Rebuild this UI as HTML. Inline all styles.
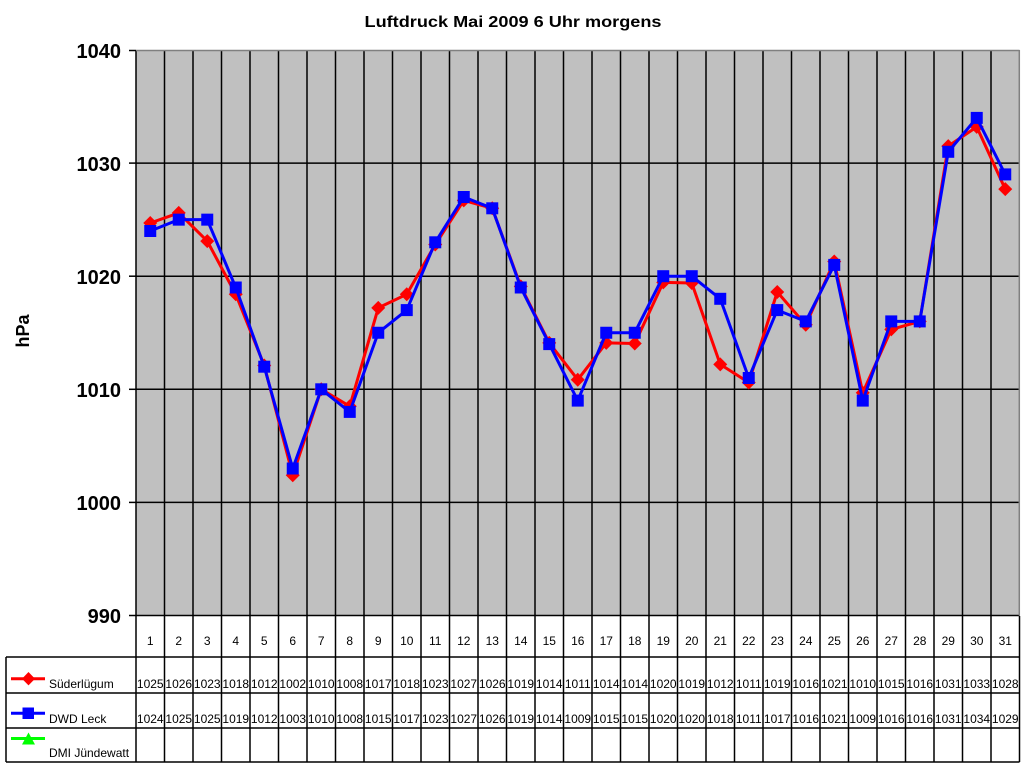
<!DOCTYPE html>
<html><head><meta charset="utf-8"><style>
html,body{margin:0;padding:0;background:#fff;}
svg{display:block;}
text{font-family:"Liberation Sans",Arial,sans-serif;}
</style></head><body>
<svg width="1024" height="768" viewBox="0 0 1024 768" xmlns="http://www.w3.org/2000/svg">
<rect x="0" y="0" width="1024" height="768" fill="#fff"/>
<text x="513" y="27" font-size="16" font-weight="bold" text-anchor="middle" textLength="297" lengthAdjust="spacingAndGlyphs">Luftdruck Mai 2009 6 Uhr morgens</text>
<text transform="translate(29,331) rotate(-90)" font-size="18" font-weight="bold" text-anchor="middle">hPa</text>
<!-- plot area -->
<rect x="136" y="50" width="883.5" height="565.5" fill="#C0C0C0"/>
<g stroke="#000" stroke-width="1.5">
<line x1="136" y1="163.1" x2="1019.5" y2="163.1"/>
<line x1="136" y1="276.2" x2="1019.5" y2="276.2"/>
<line x1="136" y1="389.3" x2="1019.5" y2="389.3"/>
<line x1="136" y1="502.4" x2="1019.5" y2="502.4"/>
<line x1="164.5" y1="50" x2="164.5" y2="762"/>
<line x1="193" y1="50" x2="193" y2="762"/>
<line x1="221.5" y1="50" x2="221.5" y2="762"/>
<line x1="250" y1="50" x2="250" y2="762"/>
<line x1="278.5" y1="50" x2="278.5" y2="762"/>
<line x1="307" y1="50" x2="307" y2="762"/>
<line x1="335.5" y1="50" x2="335.5" y2="762"/>
<line x1="364" y1="50" x2="364" y2="762"/>
<line x1="392.5" y1="50" x2="392.5" y2="762"/>
<line x1="421" y1="50" x2="421" y2="762"/>
<line x1="449.5" y1="50" x2="449.5" y2="762"/>
<line x1="478" y1="50" x2="478" y2="762"/>
<line x1="506.5" y1="50" x2="506.5" y2="762"/>
<line x1="535" y1="50" x2="535" y2="762"/>
<line x1="563.5" y1="50" x2="563.5" y2="762"/>
<line x1="592" y1="50" x2="592" y2="762"/>
<line x1="620.5" y1="50" x2="620.5" y2="762"/>
<line x1="649" y1="50" x2="649" y2="762"/>
<line x1="677.5" y1="50" x2="677.5" y2="762"/>
<line x1="706" y1="50" x2="706" y2="762"/>
<line x1="734.5" y1="50" x2="734.5" y2="762"/>
<line x1="763" y1="50" x2="763" y2="762"/>
<line x1="791.5" y1="50" x2="791.5" y2="762"/>
<line x1="820" y1="50" x2="820" y2="762"/>
<line x1="848.5" y1="50" x2="848.5" y2="762"/>
<line x1="877" y1="50" x2="877" y2="762"/>
<line x1="905.5" y1="50" x2="905.5" y2="762"/>
<line x1="934" y1="50" x2="934" y2="762"/>
<line x1="962.5" y1="50" x2="962.5" y2="762"/>
<line x1="991" y1="50" x2="991" y2="762"/>
<line x1="1019.5" y1="616" x2="1019.5" y2="762"/>
<!-- axis -->
<line x1="136" y1="50" x2="136" y2="762"/>
<line x1="136" y1="615.5" x2="1019.5" y2="615.5"/>
<!-- ticks -->
<line x1="129" y1="50.5" x2="136" y2="50.5"/>
<line x1="129" y1="163.1" x2="136" y2="163.1"/>
<line x1="129" y1="276.2" x2="136" y2="276.2"/>
<line x1="129" y1="389.3" x2="136" y2="389.3"/>
<line x1="129" y1="502.4" x2="136" y2="502.4"/>
<line x1="129" y1="615.5" x2="136" y2="615.5"/>
<!-- table -->
<line x1="6" y1="657" x2="1019.5" y2="657"/>
<line x1="6" y1="693" x2="1019.5" y2="693"/>
<line x1="6" y1="728" x2="1019.5" y2="728"/>
<line x1="6" y1="762" x2="1019.5" y2="762"/>
<line x1="6" y1="657" x2="6" y2="762"/>
</g>
<g stroke="#808080" stroke-width="1.5">
<line x1="136" y1="50.5" x2="1019.5" y2="50.5"/>
<line x1="1019.3" y1="50" x2="1019.3" y2="615.5"/>
</g>
<!-- y labels -->
<g font-size="20" font-weight="bold" text-anchor="end">
<text x="121" y="58">1040</text>
<text x="121" y="171">1030</text>
<text x="121" y="284">1020</text>
<text x="121" y="397">1010</text>
<text x="121" y="510">1000</text>
<text x="121" y="623">990</text>
</g>
<!-- red series -->
<polyline fill="none" stroke="#FF0000" stroke-width="3" stroke-linejoin="round" points="150.25,223 178.75,212.9 207.25,241.1 235.75,294.3 264.25,365.5 292.75,475.3 321.25,389.3 349.75,406.3 378.25,307.9 406.75,294.3 435.25,244.5 463.75,200.4 492.25,208.3 520.75,286.4 549.25,342.9 577.75,379.7 606.25,342.9 634.75,343.5 663.25,282.4 691.75,283 720.25,364.4 748.75,382.5 777.25,292 805.75,324.8 834.25,261.5 862.75,392.7 891.25,329.4 919.75,321.4 948.25,146.1 976.75,126.9 1005.25,189.1"/>
<g fill="#FF0000">
<path d="M150.25,216 l7,7 l-7,7 l-7,-7z"/>
<path d="M178.75,205.9 l7,7 l-7,7 l-7,-7z"/>
<path d="M207.25,234.1 l7,7 l-7,7 l-7,-7z"/>
<path d="M235.75,287.3 l7,7 l-7,7 l-7,-7z"/>
<path d="M264.25,358.5 l7,7 l-7,7 l-7,-7z"/>
<path d="M292.75,468.3 l7,7 l-7,7 l-7,-7z"/>
<path d="M321.25,382.3 l7,7 l-7,7 l-7,-7z"/>
<path d="M349.75,399.3 l7,7 l-7,7 l-7,-7z"/>
<path d="M378.25,300.9 l7,7 l-7,7 l-7,-7z"/>
<path d="M406.75,287.3 l7,7 l-7,7 l-7,-7z"/>
<path d="M435.25,237.5 l7,7 l-7,7 l-7,-7z"/>
<path d="M463.75,193.4 l7,7 l-7,7 l-7,-7z"/>
<path d="M492.25,201.3 l7,7 l-7,7 l-7,-7z"/>
<path d="M520.75,279.4 l7,7 l-7,7 l-7,-7z"/>
<path d="M549.25,335.9 l7,7 l-7,7 l-7,-7z"/>
<path d="M577.75,372.7 l7,7 l-7,7 l-7,-7z"/>
<path d="M606.25,335.9 l7,7 l-7,7 l-7,-7z"/>
<path d="M634.75,336.5 l7,7 l-7,7 l-7,-7z"/>
<path d="M663.25,275.4 l7,7 l-7,7 l-7,-7z"/>
<path d="M691.75,276 l7,7 l-7,7 l-7,-7z"/>
<path d="M720.25,357.4 l7,7 l-7,7 l-7,-7z"/>
<path d="M748.75,375.5 l7,7 l-7,7 l-7,-7z"/>
<path d="M777.25,285 l7,7 l-7,7 l-7,-7z"/>
<path d="M805.75,317.8 l7,7 l-7,7 l-7,-7z"/>
<path d="M834.25,254.5 l7,7 l-7,7 l-7,-7z"/>
<path d="M862.75,385.7 l7,7 l-7,7 l-7,-7z"/>
<path d="M891.25,322.4 l7,7 l-7,7 l-7,-7z"/>
<path d="M919.75,314.4 l7,7 l-7,7 l-7,-7z"/>
<path d="M948.25,139.1 l7,7 l-7,7 l-7,-7z"/>
<path d="M976.75,119.9 l7,7 l-7,7 l-7,-7z"/>
<path d="M1005.25,182.1 l7,7 l-7,7 l-7,-7z"/>
</g>
<!-- blue series -->
<polyline fill="none" stroke="#0000FF" stroke-width="3" stroke-linejoin="round" points="150.25,231 178.75,219.65 207.25,219.65 235.75,287.5 264.25,366.7 292.75,468.5 321.25,389.3 349.75,411.9 378.25,332.75 406.75,310.1 435.25,242.3 463.75,197 492.25,208.3 520.75,287.5 549.25,344.1 577.75,400.6 606.25,332.75 634.75,332.75 663.25,276.2 691.75,276.2 720.25,298.8 748.75,378 777.25,310.1 805.75,321.4 834.25,264.9 862.75,400.6 891.25,321.4 919.75,321.4 948.25,151.8 976.75,117.9 1005.25,174.4"/>
<g fill="#0000FF">
<rect x="144.25" y="225" width="12" height="12"/>
<rect x="172.75" y="213.65" width="12" height="12"/>
<rect x="201.25" y="213.65" width="12" height="12"/>
<rect x="229.75" y="281.5" width="12" height="12"/>
<rect x="258.25" y="360.7" width="12" height="12"/>
<rect x="286.75" y="462.5" width="12" height="12"/>
<rect x="315.25" y="383.3" width="12" height="12"/>
<rect x="343.75" y="405.9" width="12" height="12"/>
<rect x="372.25" y="326.75" width="12" height="12"/>
<rect x="400.75" y="304.1" width="12" height="12"/>
<rect x="429.25" y="236.3" width="12" height="12"/>
<rect x="457.75" y="191" width="12" height="12"/>
<rect x="486.25" y="202.3" width="12" height="12"/>
<rect x="514.75" y="281.5" width="12" height="12"/>
<rect x="543.25" y="338.1" width="12" height="12"/>
<rect x="571.75" y="394.6" width="12" height="12"/>
<rect x="600.25" y="326.75" width="12" height="12"/>
<rect x="628.75" y="326.75" width="12" height="12"/>
<rect x="657.25" y="270.2" width="12" height="12"/>
<rect x="685.75" y="270.2" width="12" height="12"/>
<rect x="714.25" y="292.8" width="12" height="12"/>
<rect x="742.75" y="372" width="12" height="12"/>
<rect x="771.25" y="304.1" width="12" height="12"/>
<rect x="799.75" y="315.4" width="12" height="12"/>
<rect x="828.25" y="258.9" width="12" height="12"/>
<rect x="856.75" y="394.6" width="12" height="12"/>
<rect x="885.25" y="315.4" width="12" height="12"/>
<rect x="913.75" y="315.4" width="12" height="12"/>
<rect x="942.25" y="145.8" width="12" height="12"/>
<rect x="970.75" y="111.9" width="12" height="12"/>
<rect x="999.25" y="168.4" width="12" height="12"/>
</g>
<!-- table text -->
<g font-size="12" text-anchor="middle" fill="#000">
<text x="150.25" y="645">1</text><text x="178.75" y="645">2</text><text x="207.25" y="645">3</text><text x="235.75" y="645">4</text><text x="264.25" y="645">5</text><text x="292.75" y="645">6</text><text x="321.25" y="645">7</text><text x="349.75" y="645">8</text><text x="378.25" y="645">9</text><text x="406.75" y="645">10</text><text x="435.25" y="645">11</text><text x="463.75" y="645">12</text><text x="492.25" y="645">13</text><text x="520.75" y="645">14</text><text x="549.25" y="645">15</text><text x="577.75" y="645">16</text><text x="606.25" y="645">17</text><text x="634.75" y="645">18</text><text x="663.25" y="645">19</text><text x="691.75" y="645">20</text><text x="720.25" y="645">21</text><text x="748.75" y="645">22</text><text x="777.25" y="645">23</text><text x="805.75" y="645">24</text><text x="834.25" y="645">25</text><text x="862.75" y="645">26</text><text x="891.25" y="645">27</text><text x="919.75" y="645">28</text><text x="948.25" y="645">29</text><text x="976.75" y="645">30</text><text x="1005.25" y="645">31</text>
</g>
<g font-size="12" text-anchor="middle" fill="#000">
<text x="150.25" y="688">1025</text><text x="178.75" y="688">1026</text><text x="207.25" y="688">1023</text><text x="235.75" y="688">1018</text><text x="264.25" y="688">1012</text><text x="292.75" y="688">1002</text><text x="321.25" y="688">1010</text><text x="349.75" y="688">1008</text><text x="378.25" y="688">1017</text><text x="406.75" y="688">1018</text><text x="435.25" y="688">1023</text><text x="463.75" y="688">1027</text><text x="492.25" y="688">1026</text><text x="520.75" y="688">1019</text><text x="549.25" y="688">1014</text><text x="577.75" y="688">1011</text><text x="606.25" y="688">1014</text><text x="634.75" y="688">1014</text><text x="663.25" y="688">1020</text><text x="691.75" y="688">1019</text><text x="720.25" y="688">1012</text><text x="748.75" y="688">1011</text><text x="777.25" y="688">1019</text><text x="805.75" y="688">1016</text><text x="834.25" y="688">1021</text><text x="862.75" y="688">1010</text><text x="891.25" y="688">1015</text><text x="919.75" y="688">1016</text><text x="948.25" y="688">1031</text><text x="976.75" y="688">1033</text><text x="1005.25" y="688">1028</text>
</g>
<g font-size="12" text-anchor="middle" fill="#000">
<text x="150.25" y="723">1024</text><text x="178.75" y="723">1025</text><text x="207.25" y="723">1025</text><text x="235.75" y="723">1019</text><text x="264.25" y="723">1012</text><text x="292.75" y="723">1003</text><text x="321.25" y="723">1010</text><text x="349.75" y="723">1008</text><text x="378.25" y="723">1015</text><text x="406.75" y="723">1017</text><text x="435.25" y="723">1023</text><text x="463.75" y="723">1027</text><text x="492.25" y="723">1026</text><text x="520.75" y="723">1019</text><text x="549.25" y="723">1014</text><text x="577.75" y="723">1009</text><text x="606.25" y="723">1015</text><text x="634.75" y="723">1015</text><text x="663.25" y="723">1020</text><text x="691.75" y="723">1020</text><text x="720.25" y="723">1018</text><text x="748.75" y="723">1011</text><text x="777.25" y="723">1017</text><text x="805.75" y="723">1016</text><text x="834.25" y="723">1021</text><text x="862.75" y="723">1009</text><text x="891.25" y="723">1016</text><text x="919.75" y="723">1016</text><text x="948.25" y="723">1031</text><text x="976.75" y="723">1034</text><text x="1005.25" y="723">1029</text>
</g>
<!-- legend -->
<line x1="11" y1="678.7" x2="45" y2="678.7" stroke="#FF0000" stroke-width="3"/>
<path d="M28.5,672 l6.5,6.7 l-6.5,6.7 l-6.5,-6.7z" fill="#FF0000"/>
<line x1="11" y1="713.3" x2="45" y2="713.3" stroke="#0000FF" stroke-width="3"/>
<rect x="22.5" y="707.5" width="11.5" height="11.5" fill="#0000FF"/>
<line x1="11" y1="738.5" x2="45" y2="738.5" stroke="#00FF00" stroke-width="3"/>
<path d="M28.5,732.5 l6.5,12 l-13,0z" fill="#00FF00"/>
<g font-size="12" fill="#000">
<text x="49" y="688">Süderlügum</text>
<text x="49" y="723">DWD Leck</text>
<text x="49" y="757">DMI Jündewatt</text>
</g>
</svg>
</body></html>
